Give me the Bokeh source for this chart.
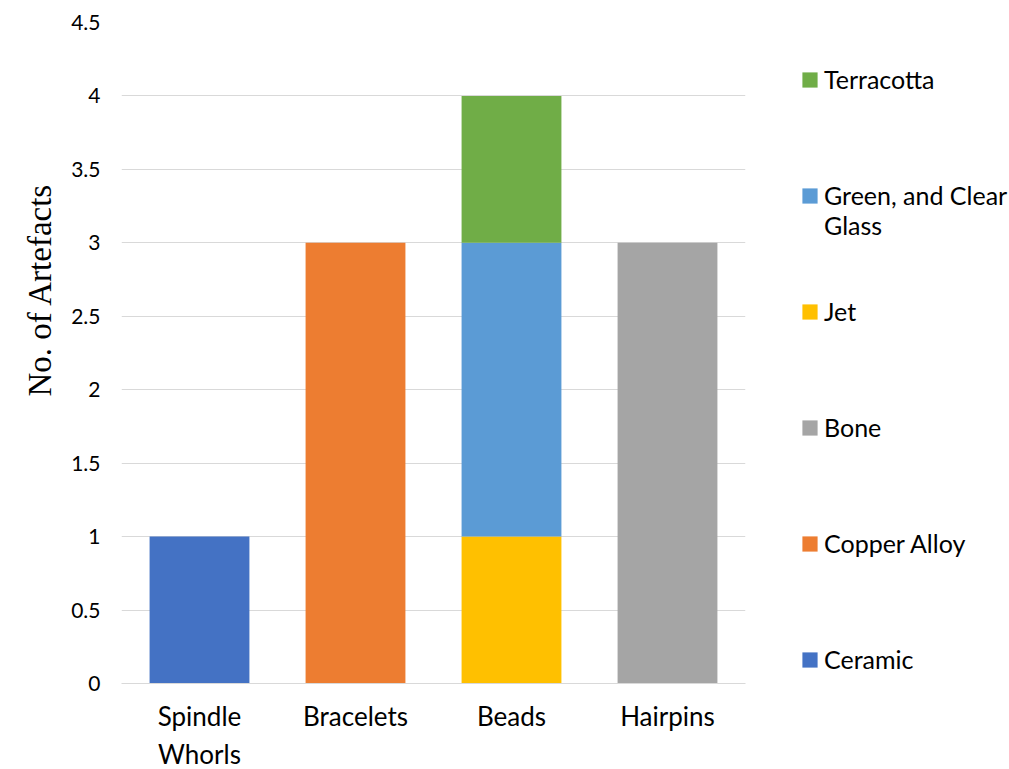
from bokeh.plotting import figure
from bokeh.models import (ColumnDataSource, Range1d, FixedTicker, NumeralTickFormatter,
                          Legend, LegendItem, Title)
from bokeh.embed import file_html
from bokeh.resources import INLINE

categories = ["Spindle Whorls", "Bracelets", "Beads", "Hairpins"]
x_labels = ["Spindle\nWhorls", "Bracelets", "Beads", "Hairpins"]
series_names = ["Ceramic", "Copper Alloy", "Bone", "Jet", "Green, and Clear Glass", "Terracotta"]
ceramic = [1, 0, 0, 0]
copper_alloy = [0, 3, 0, 0]
bone = [0, 0, 0, 3]
jet = [0, 0, 1, 0]
glass = [0, 0, 2, 0]
terracotta = [0, 0, 1, 0]
colors = ["#4472C4", "#ED7D31", "#A5A5A5", "#FFC000", "#5B9BD5", "#70AD47"]
y_ticks = [0, 0.5, 1, 1.5, 2, 2.5, 3, 3.5, 4, 4.5]
# leading empty line keeps the swatch level with the first text line
legend_labels = ["Ceramic", "Copper Alloy", "Bone", "Jet", "\nGreen, and Clear\nGlass", "Terracotta"]

keys = ["s0", "s1", "s2", "s3", "s4", "s5"]
src = ColumnDataSource(dict(cat=x_labels, s0=ceramic, s1=copper_alloy, s2=bone,
                            s3=jet, s4=glass, s5=terracotta))

p = figure(x_range=x_labels, y_range=Range1d(0, 4.5),
           frame_width=624, frame_height=661,
           min_border_left=121, min_border_top=22, min_border_bottom=60, min_border_right=250,
           output_backend="svg", toolbar_location=None)
p.outline_line_color = None
p.background_fill_color = "white"

renderers = p.vbar_stack(keys, x="cat", width=0.64, color=colors, line_color=None, source=src)

p.xgrid.grid_line_color = None
p.ygrid.grid_line_color = "#D9D9D9"
p.ygrid.grid_line_width = 1

p.yaxis.ticker = FixedTicker(ticks=y_ticks)
p.yaxis.formatter = NumeralTickFormatter(format="0.[0]")
p.yaxis.axis_line_color = None
p.yaxis.major_tick_line_color = None
p.yaxis.minor_tick_line_color = None
p.yaxis.major_label_standoff = 15
p.yaxis.major_label_text_font = "Lato"
p.yaxis.major_label_text_font_size = "21px"
p.yaxis.major_label_text_color = "#000000"

p.xaxis.axis_line_color = "#D9D9D9"
p.xaxis.major_tick_line_color = None
p.xaxis.minor_tick_line_color = None
p.xaxis.major_label_standoff = 10
p.xaxis.major_label_text_font = "Lato"
p.xaxis.major_label_text_font_size = "26px"
p.xaxis.major_label_text_color = "#000000"

ytitle = Title(text="No. of Artefacts", align="left", offset=287, standoff=22,
               text_font="Liberation Serif", text_font_size="33px",
               text_font_style="normal", text_color="#000000")
p.add_layout(ytitle, "left")

items = [LegendItem(label=lab, renderers=[r]) for lab, r in zip(legend_labels, renderers)]
items = items[::-1]
legend = Legend(items=items, location=(55, -24), orientation="vertical",
                glyph_width=19, glyph_height=19, label_height=96, label_standoff=5,
                spacing=20, padding=0, margin=0, border_line_color=None,
                background_fill_alpha=0,
                label_text_font="Lato", label_text_font_size="25px",
                label_text_color="#000000")
p.add_layout(legend, "right")

open("out.html", "w").write(file_html(p, INLINE))
